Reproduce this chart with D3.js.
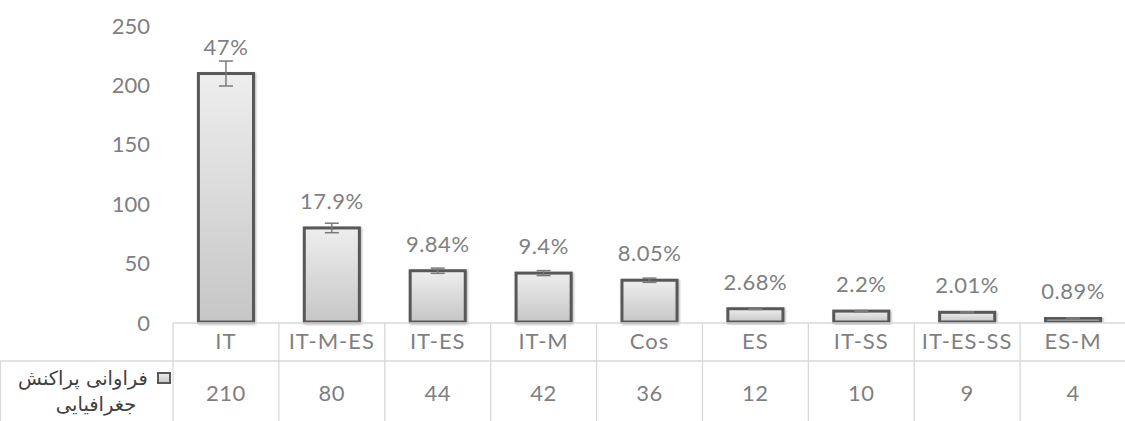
<!DOCTYPE html>
<html>
<head>
<meta charset="utf-8">
<script src="https://cdn.jsdelivr.net/npm/d3@7"></script>
<style>
  body { margin: 0; background: #fff; }
  svg { display: block; }
</style>
</head>
<body>
<div id="chart"></div>
<script>
// Categorias e valores
const categories = ["IT", "IT-M-ES", "IT-ES", "IT-M", "Cos", "ES", "IT-SS", "IT-ES-SS", "ES-M"];
const values = [210, 80, 44, 42, 36, 12, 10, 9, 4];
const percentLabels = ["47%", "17.9%", "9.84%", "9.4%", "8.05%", "2.68%", "2.2%", "2.01%", "0.89%"];
const errors = [10.5, 4, 2.2, 2.1, 1.8, 0.6, 0.5, 0.45, 0.2];
const yTicks = [0, 50, 100, 150, 200, 250];
const seriesName = ["فراوانی پراکنش", "جغرافیایی"];

const width = 1125;
const height = 421;
const tableLeft = 173;
const baseY = 323;
const headerBottom = 361;

const svg = d3
  .select("#chart")
  .append("svg")
  .attr("width", width)
  .attr("height", height);

// Gradiente das barras
const defs = svg.append("defs");
const grad = defs
  .append("linearGradient")
  .attr("id", "barGrad")
  .attr("x1", 0).attr("y1", 0).attr("x2", 0).attr("y2", 1);
grad.append("stop").attr("offset", "0%").attr("stop-color", "#eeeeee");
grad.append("stop").attr("offset", "100%").attr("stop-color", "#c6c6c6");

defs
  .append("filter")
  .attr("id", "shadow")
  .attr("x", "-20%").attr("y", "-20%").attr("width", "140%").attr("height", "140%")
  .append("feDropShadow")
  .attr("dx", 1).attr("dy", 1).attr("stdDeviation", 1.2)
  .attr("flood-color", "#000").attr("flood-opacity", 0.3);

// Escalas
const x = d3.scaleBand().domain(categories).range([tableLeft, 1126]).padding(0);
const y = d3.scaleLinear().domain([0, 250]).range([baseY, 26]);
const barW = x.bandwidth() * 0.52;

const font = "Lato, 'Open Sans', sans-serif";
const gray = "#7f7f7f";

// Eixo Y (somente rótulos)
const yAxis = svg
  .append("g")
  .attr("transform", "translate(150,0)")
  .call(d3.axisLeft(y).tickValues(yTicks).tickSize(0).tickPadding(0));
yAxis.select(".domain").remove();
yAxis
  .selectAll("text")
  .attr("font-family", font)
  .attr("font-size", "22px")
  .attr("fill", gray);

// Barras
svg
  .selectAll("rect.bar")
  .data(values)
  .enter()
  .append("rect")
  .attr("class", "bar")
  .attr("x", (d, i) => x(categories[i]) + (x.bandwidth() - barW) / 2)
  .attr("y", (d) => y(d))
  .attr("width", barW)
  .attr("height", (d) => baseY - 1 - y(d))
  .attr("fill", "url(#barGrad)")
  .attr("stroke", "#595959")
  .attr("stroke-width", 3)
  .attr("filter", "url(#shadow)");

// Barras de erro
const eb = svg
  .selectAll("g.err")
  .data(values)
  .enter()
  .append("g")
  .attr("class", "err")
  .attr("stroke", "#7a7a7a")
  .attr("stroke-width", 1.5);
eb.append("line")
  .attr("x1", (d, i) => x(categories[i]) + x.bandwidth() / 2)
  .attr("x2", (d, i) => x(categories[i]) + x.bandwidth() / 2)
  .attr("y1", (d, i) => y(d + errors[i]))
  .attr("y2", (d, i) => y(d - errors[i]));
[1, -1].forEach((s) => {
  eb.append("line")
    .attr("x1", (d, i) => x(categories[i]) + x.bandwidth() / 2 - 7)
    .attr("x2", (d, i) => x(categories[i]) + x.bandwidth() / 2 + 7)
    .attr("y1", (d, i) => y(d + s * errors[i]))
    .attr("y2", (d, i) => y(d + s * errors[i]));
});

// Rótulos de porcentagem
svg
  .selectAll("text.pct")
  .data(values)
  .enter()
  .append("text")
  .attr("class", "pct")
  .attr("x", (d, i) => x(categories[i]) + x.bandwidth() / 2)
  .attr("y", (d) => y(d) - 19)
  .attr("text-anchor", "middle")
  .attr("font-family", font)
  .attr("font-size", "22px")
  .attr("letter-spacing", "0.5px")
  .attr("fill", gray)
  .text((d, i) => percentLabels[i]);

// Tabela de dados
const lineColor = "#d9d9d9";
const table = svg.append("g").attr("stroke", lineColor).attr("stroke-width", 1.3);
table.append("line").attr("x1", tableLeft).attr("x2", width).attr("y1", baseY).attr("y2", baseY);
table.append("line").attr("x1", 0).attr("x2", width).attr("y1", headerBottom).attr("y2", headerBottom);
table.append("line").attr("x1", 0.5).attr("x2", 0.5).attr("y1", headerBottom).attr("y2", height);
table
  .selectAll("line.v")
  .data(categories.concat(["end"]))
  .enter()
  .append("line")
  .attr("class", "v")
  .attr("x1", (d, i) => tableLeft + i * x.bandwidth())
  .attr("x2", (d, i) => tableLeft + i * x.bandwidth())
  .attr("y1", baseY)
  .attr("y2", height);

svg
  .selectAll("text.cat")
  .data(categories)
  .enter()
  .append("text")
  .attr("class", "cat")
  .attr("x", (d) => x(d) + x.bandwidth() / 2)
  .attr("y", 349)
  .attr("text-anchor", "middle")
  .attr("font-family", font)
  .attr("font-size", "22px")
  .attr("letter-spacing", "1px")
  .attr("fill", gray)
  .text((d) => d);

svg
  .selectAll("text.val")
  .data(values)
  .enter()
  .append("text")
  .attr("class", "val")
  .attr("x", (d, i) => x(categories[i]) + x.bandwidth() / 2)
  .attr("y", 401)
  .attr("text-anchor", "middle")
  .attr("font-family", font)
  .attr("font-size", "22px")
  .attr("letter-spacing", "0.5px")
  .attr("fill", gray)
  .text((d) => d);

// Legenda da série na tabela
svg
  .append("rect")
  .attr("x", 158)
  .attr("y", 373)
  .attr("width", 12)
  .attr("height", 10)
  .attr("fill", "url(#barGrad)")
  .attr("stroke", "#595959")
  .attr("stroke-width", 2);

const label = svg
  .append("text")
  .attr("font-family", "'DejaVu Sans', sans-serif")
  .attr("font-size", "19.5px")
  .attr("fill", "#404040")
  .attr("text-anchor", "middle");
label.append("tspan").attr("x", 83).attr("y", 385).text(seriesName[0]);
label.append("tspan").attr("x", 96).attr("y", 411).text(seriesName[1]);
</script>
</body>
</html>
